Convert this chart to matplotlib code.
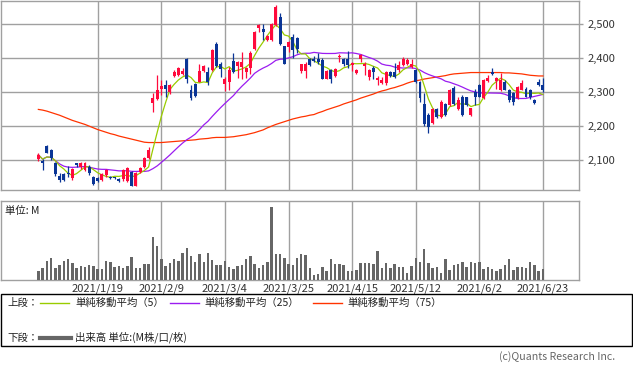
import matplotlib
matplotlib.use("Agg")
import matplotlib.pyplot as plt
from matplotlib.lines import Line2D
from matplotlib.patches import Rectangle
import numpy as np
import pandas as pd

plt.rcParams['font.family'] = ['Noto Sans CJK JP', 'DejaVu Sans']

# ---------------- data ----------------
opens = [2103, 2098, 2142, 2130, 2093, 2054, 2060, 2064, 2047, 2091,
         2079, 2072, 2079, 2052, 2047, 2043, 2057, 2052, 2050, 2045,
         2044, 2038, 2067, 2026, 2067, 2079, 2106, 2268, 2279, 2309,
         2320, 2300, 2346, 2349, 2354, 2398, 2305, 2323, 2330, 2361,
         2359, 2364, 2440, 2381, 2323, 2330, 2390, 2376, 2373, 2359,
         2369, 2427, 2488, 2485, 2451, 2451, 2495, 2521, 2434, 2432,
         2461, 2459, 2362, 2362, 2398, 2398, 2398, 2393, 2339, 2365,
         2346, 2402, 2397, 2397, 2378, 2356, 2397, 2375, 2344, 2370,
         2334, 2325, 2325, 2359, 2359, 2363, 2378, 2381, 2373, 2364,
         2330, 2266, 2232, 2208, 2249, 2226, 2265, 2262, 2313, 2249,
         2286, 2284, 2232, 2301, 2320, 2281, 2333, 2359, 2333, 2305,
         2330, 2305, 2296, 2281, 2307, 2310, 2307, 2276, 2330, 2320]
closes = [2116, 2091, 2122, 2106, 2059, 2043, 2043, 2060, 2074, 2085,
          2091, 2093, 2062, 2031, 2040, 2060, 2072, 2047, 2047, 2038,
          2072, 2077, 2026, 2062, 2077, 2108, 2130, 2283, 2305, 2317,
          2310, 2320, 2359, 2369, 2362, 2339, 2283, 2288, 2362, 2376,
          2330, 2424, 2376, 2368, 2339, 2364, 2359, 2388, 2388, 2369,
          2415, 2476, 2495, 2477, 2463, 2500, 2549, 2441, 2383, 2446,
          2422, 2425, 2381, 2383, 2378, 2391, 2388, 2339, 2361, 2339,
          2368, 2405, 2381, 2378, 2385, 2365, 2407, 2383, 2363, 2358,
          2341, 2336, 2359, 2346, 2344, 2378, 2397, 2395, 2381, 2330,
          2281, 2205, 2198, 2249, 2228, 2271, 2232, 2305, 2264, 2276,
          2232, 2262, 2252, 2286, 2286, 2335, 2340, 2352, 2340, 2334,
          2307, 2276, 2271, 2315, 2327, 2286, 2284, 2268, 2320, 2305]
highs = [2121, 2103, 2146, 2132, 2095, 2062, 2062, 2083, 2076, 2093,
         2096, 2096, 2085, 2054, 2050, 2062, 2075, 2055, 2052, 2048,
         2074, 2079, 2070, 2065, 2080, 2110, 2138, 2296, 2349, 2336,
         2334, 2322, 2364, 2373, 2369, 2400, 2320, 2325, 2383, 2378,
         2373, 2426, 2447, 2388, 2344, 2373, 2414, 2392, 2417, 2372,
         2419, 2478, 2500, 2500, 2466, 2502, 2556, 2530, 2436, 2449,
         2470, 2462, 2383, 2388, 2400, 2405, 2414, 2400, 2363, 2368,
         2370, 2410, 2400, 2420, 2388, 2368, 2412, 2388, 2366, 2375,
         2346, 2344, 2361, 2361, 2385, 2392, 2402, 2400, 2397, 2368,
         2332, 2296, 2239, 2252, 2252, 2276, 2268, 2310, 2317, 2285,
         2290, 2286, 2254, 2310, 2322, 2337, 2349, 2371, 2344, 2356,
         2334, 2310, 2300, 2317, 2336, 2315, 2310, 2280, 2338, 2340]
lows = [2098, 2072, 2120, 2100, 2055, 2036, 2040, 2052, 2043, 2080,
        2075, 2068, 2058, 2028, 2036, 2040, 2050, 2045, 2044, 2035,
        2040, 2035, 2025, 2025, 2064, 2077, 2104, 2242, 2277, 2290,
        2284, 2293, 2344, 2346, 2350, 2325, 2278, 2286, 2328, 2359,
        2320, 2362, 2374, 2344, 2303, 2305, 2357, 2342, 2339, 2340,
        2354, 2422, 2475, 2451, 2448, 2449, 2493, 2439, 2381, 2418,
        2400, 2414, 2356, 2342, 2375, 2388, 2381, 2337, 2337, 2325,
        2344, 2388, 2375, 2371, 2361, 2352, 2388, 2351, 2334, 2339,
        2320, 2322, 2320, 2344, 2340, 2360, 2375, 2378, 2370, 2325,
        2271, 2200, 2181, 2205, 2225, 2224, 2230, 2259, 2262, 2246,
        2230, 2258, 2229, 2262, 2284, 2279, 2330, 2349, 2310, 2303,
        2305, 2272, 2262, 2279, 2305, 2284, 2280, 2264, 2318, 2300]
ma75 = [2249, 2247, 2244, 2240, 2236, 2232, 2227, 2222, 2217, 2213,
        2209, 2205, 2200, 2195, 2190, 2186, 2182, 2178, 2175, 2171,
        2168, 2165, 2162, 2159, 2156, 2153, 2152, 2152, 2152, 2152,
        2153, 2154, 2155, 2156, 2157, 2158, 2159, 2160, 2162, 2163,
        2164, 2166, 2167, 2167, 2167, 2168, 2169, 2171, 2173, 2175,
        2178, 2181, 2185, 2189, 2195, 2200, 2205, 2209, 2213, 2217,
        2221, 2224, 2227, 2229, 2232, 2234, 2239, 2243, 2248, 2252,
        2256, 2260, 2265, 2269, 2273, 2277, 2282, 2286, 2290, 2294,
        2299, 2303, 2306, 2310, 2313, 2317, 2321, 2326, 2330, 2333,
        2335, 2338, 2340, 2342, 2344, 2346, 2348, 2351, 2353, 2354,
        2355, 2356, 2357, 2357, 2357, 2357, 2357, 2357, 2357, 2357,
        2356, 2356, 2355, 2354, 2353, 2351, 2349, 2348, 2347, 2347]
volume = [2.8, 3.7, 5.8, 6.7, 3.7, 4.6, 5.8, 6.4, 5.2, 3.7,
          4.3, 4.0, 4.6, 4.3, 3.4, 3.4, 5.8, 5.5, 4.0, 4.3,
          3.7, 4.3, 7.0, 3.7, 3.7, 4.9, 4.9, 13.0, 10.3, 6.4,
          4.3, 5.2, 6.4, 5.8, 8.2, 9.7, 7.3, 5.5, 7.9, 5.5,
          8.2, 6.1, 4.6, 4.6, 5.8, 4.0, 3.4, 4.3, 4.6, 6.4,
          7.3, 4.9, 3.7, 4.6, 5.5, 22.1, 7.9, 7.9, 6.7, 4.9,
          4.6, 6.7, 7.9, 7.6, 3.7, 1.6, 1.9, 4.0, 2.8, 6.4,
          4.9, 4.9, 4.6, 2.8, 2.8, 3.1, 5.2, 5.2, 5.2, 4.9,
          8.8, 3.7, 5.2, 3.7, 4.9, 4.0, 4.0, 2.2, 4.3, 6.7,
          5.5, 9.4, 5.2, 3.7, 4.0, 2.2, 6.4, 3.1, 4.6, 4.9,
          5.5, 4.0, 5.5, 5.2, 5.5, 3.4, 4.0, 3.4, 2.8, 3.4,
          4.6, 6.4, 3.1, 4.0, 4.0, 3.7, 5.5, 4.6, 2.8, 3.4]
date_labels = ["2021/1/19", "2021/2/9", "2021/3/4", "2021/3/25",
               "2021/4/15", "2021/5/12", "2021/6/2", "2021/6/23"]
date_index = [14, 29, 44, 59, 74, 89, 104, 119]
price_ticks = [2100, 2200, 2300, 2400, 2500]

# ---------------- styles ----------------
W, H = 633, 372
UP = '#ff0a3c'
DOWN = '#0a3596'
C_MA5 = '#99cc00'
C_MA25 = '#9b1cf0'
C_MA75 = '#ff3300'
GRID = '#a0a0a0'
TXT = '#333333'

o = np.array(opens, float)
c = np.array(closes, float)
h = np.array(highs, float)
l = np.array(lows, float)
x = np.arange(len(o))
cs = pd.Series(c)
ma5 = cs.rolling(5, min_periods=1).mean().values
ma25 = cs.rolling(25, min_periods=1).mean().values

fig = plt.figure(figsize=(W / 100, H / 100), dpi=100)
fig.patch.set_facecolor('white')

def fx(px):
    return px / W

def fy(py):
    return 1 - py / H

XL = (-8.93, 127.5)

# ---------------- price panel ----------------
ax = fig.add_axes([fx(0.5), fy(190), fx(578.5), (190 - 0.5) / H])
ax.set_xlim(*XL)
ax.set_ylim(2013, 2568)
for s in ax.spines.values():
    s.set_color(GRID)
    s.set_linewidth(1)
ax.set_yticks(price_ticks)
ax.set_yticklabels([f"{v:,}" for v in price_ticks])
ax.yaxis.tick_right()
ax.tick_params(axis='y', length=3, width=1, color=GRID, pad=3,
               labelsize=8, labelcolor=TXT)
ax.set_xticks(date_index)
ax.tick_params(axis='x', length=0, labelbottom=False)
ax.grid(True, color=GRID, linewidth=1)
ax.set_axisbelow(True)

ax.plot(x, ma75, color=C_MA75, lw=0.9, zorder=2)
ax.plot(x, ma25, color=C_MA25, lw=0.9, zorder=2)
ax.plot(x, ma5, color=C_MA5, lw=0.9, zorder=2)

up = c >= o
cols = np.where(up, UP, DOWN)
ax.vlines(x, l, h, colors=cols, lw=0.9, zorder=3)
body_b = np.minimum(o, c)
body_h = np.maximum(np.abs(c - o), 1.5)
ax.bar(x, body_h, bottom=body_b, width=0.7, color=cols, linewidth=0, zorder=4)

# ---------------- volume panel ----------------
av = fig.add_axes([fx(0.5), fy(280.3), fx(578.5), 79 / H])
av.set_xlim(*XL)
av.set_ylim(0, 23.7)
for s in av.spines.values():
    s.set_color(GRID)
    s.set_linewidth(1)
av.set_yticks([])
av.set_xticks(date_index)
av.set_xticklabels(date_labels)
av.tick_params(axis='x', length=0, pad=2, labelsize=8, labelcolor=TXT)
av.grid(True, axis='x', color=GRID, linewidth=1)
av.set_axisbelow(True)
av.bar(x, volume, width=0.58, color='#666666', linewidth=0, zorder=3)
av.text(0.008, 0.88, "単位: M", transform=av.transAxes, fontsize=7.5,
        color='#222222', va='center', ha='left')

# ---------------- legend box ----------------
fig.patches.append(Rectangle((fx(0.5), fy(346)), fx(631.5), (346 - 294) / H,
                             transform=fig.transFigure, fill=False,
                             edgecolor='black', linewidth=1))
ly1, ly2 = 302.5, 337.5
fs = 7.5
fig.text(fx(7), fy(ly1), "上段：", fontsize=fs, color='#222222', va='center')
fig.text(fx(7), fy(ly2), "下段：", fontsize=fs, color='#222222', va='center')
for (x0, x1, tx, col, label) in [
        (40, 69, 75, C_MA5, "単純移動平均（5）"),
        (170, 199, 204, C_MA25, "単純移動平均（25）"),
        (313, 342, 347, C_MA75, "単純移動平均（75）")]:
    fig.add_artist(Line2D([fx(x0), fx(x1)], [fy(ly1), fy(ly1)],
                          transform=fig.transFigure, color=col, lw=1))
    fig.text(fx(tx), fy(ly1), label, fontsize=fs, color='#222222', va='center')
fig.add_artist(Line2D([fx(40), fx(71)], [fy(ly2), fy(ly2)],
                      transform=fig.transFigure, color='#666666', lw=3))
fig.text(fx(75), fy(ly2), "出来高 単位:(M株/口/枚)", fontsize=fs,
         color='#222222', va='center')

fig.text(fx(615), fy(357), "(c)Quants Research Inc.", fontsize=7.6,
         color='#666666', ha='right', va='center')

fig.savefig("out.png", dpi=100, facecolor='white')
